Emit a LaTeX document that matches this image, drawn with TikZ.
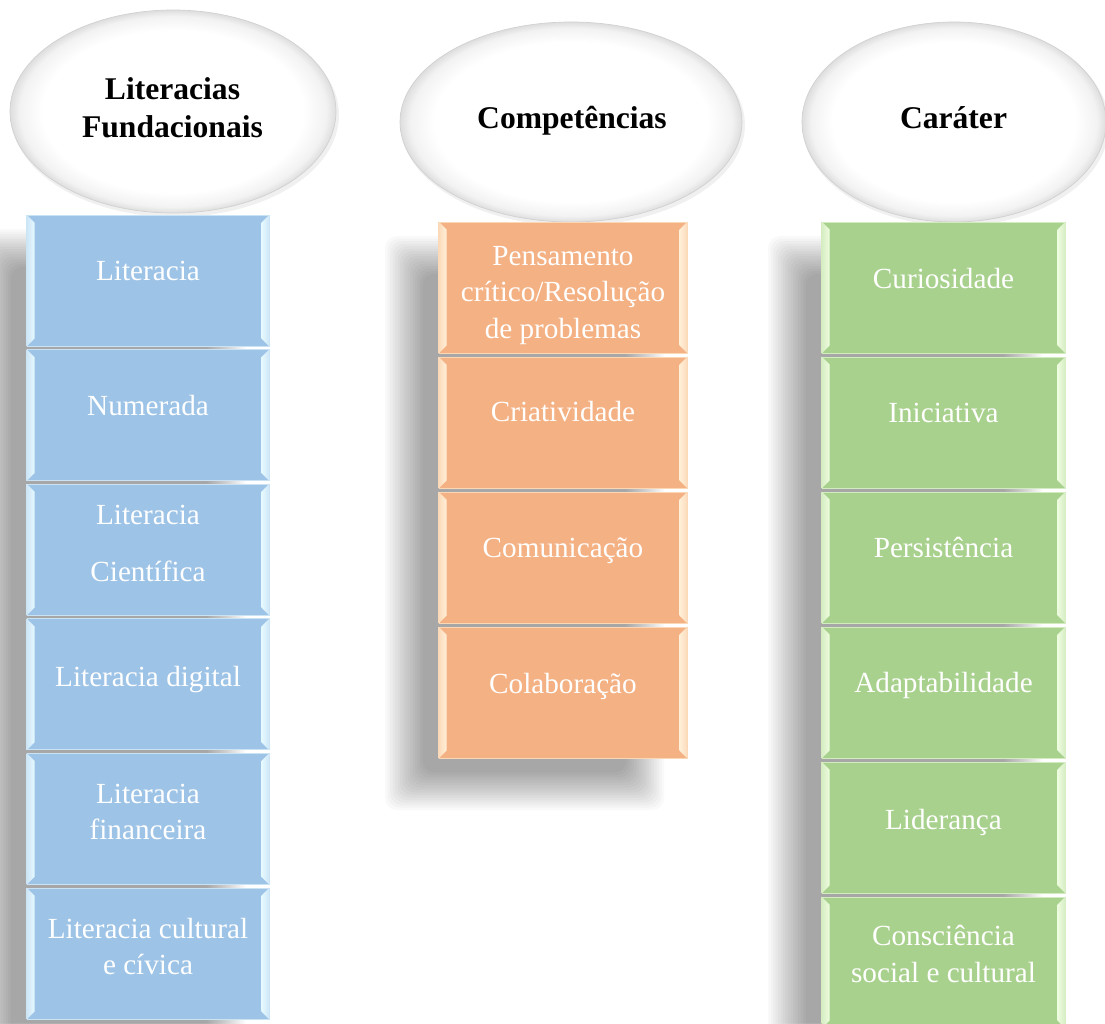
\documentclass[tikz,border=0pt]{standalone}
\usepackage{fontspec}
\setmainfont{Liberation Serif}
\usetikzlibrary{calc,shapes.geometric}
\definecolor{bfill}{HTML}{9DC3E6}
\definecolor{blite}{HTML}{E6F9FF}
\definecolor{ofill}{HTML}{F4B183}
\definecolor{olite}{HTML}{FFF0D8}
\definecolor{gfill}{HTML}{A9D18E}
\definecolor{glite}{HTML}{EEFCDF}
\pgfdeclareradialshading{ellglow}{\pgfpoint{0bp}{0bp}}{color(0bp)=(white); color(20bp)=(white); color(23.5bp)=(black!5); color(25bp)=(black!13); color(50bp)=(black!13)}
\newcommand\softshadow[4]{%
  \foreach \k in {0,...,15}{%
    \pgfmathsetmacro\shd{19-2.5*\k}%
    \fill[black, fill opacity=0.022, rounded corners=12pt] ({#1-\shd},{#2-\shd}) rectangle ({#3+\shd},{#4+\shd});
  }}
\newcommand\bevels[3]{%
  \shade[left color=#3!35!#2, right color=#2] (#1.north west) -- ++(8,8) -- ($(#1.south west)+(8,-8)$) -- (#1.south west) -- cycle;
  \shade[left color=#2, right color=#3!35!#2] (#1.north east) -- ++(-8,8) -- ($(#1.south east)+(-8,-8)$) -- (#1.south east) -- cycle;
}
\tikzset{
  colbox/.style={rectangle, inner sep=0pt, minimum height=131pt, line width=0.8pt},
  bluebox/.style={colbox, minimum width=242pt, fill=bfill, draw=blite!60!bfill},
  orangebox/.style={colbox, minimum width=248pt, fill=ofill, draw=olite!60!ofill},
  greenbox/.style={colbox, minimum width=243pt, fill=gfill, draw=glite!60!gfill},
  boxtxt/.style={text=white, font=\fontsize{29.2}{36.5}\selectfont, align=center, inner sep=0pt},
  single/.style={text height=20.4pt, text depth=6.4pt},
  hsingle/.style={text height=22pt, text depth=7pt},
  hdr/.style={text=black, font=\fontsize{31.6}{38}\selectfont\bfseries, align=center, inner sep=0pt},
  headell/.style={ellipse, inner sep=0pt, shade, shading=ellglow, draw=black!18, line width=0.7pt},
  ellshadow/.style={fill=black, fill opacity=0.06}
}
\begin{document}
\begin{tikzpicture}[x=1pt,y=-1pt]
\useasboundingbox (0,0) rectangle (1105,1023);
\fill[white] (0,0) rectangle (1105,1023);

% soft shadows behind the columns
\softshadow{-8}{248}{226}{1053}
\softshadow{404}{255}{645}{791}
\softshadow{787}{255}{1023}{1060}

% header ellipse shadows
\fill[ellshadow] (175,115) ellipse [x radius=164, y radius=102];
\fill[ellshadow] (573,125) ellipse [x radius=172, y radius=101];
\fill[ellshadow] (956,125) ellipse [x radius=153, y radius=101];

% header ellipses
\node[headell, minimum width=326pt, minimum height=203pt] (e1) at (173,111.5) {};
\node[headell, minimum width=342pt, minimum height=200pt] (e2) at (571,122) {};
\node[headell, minimum width=304pt, minimum height=200pt] (e3) at (954,122) {};

\node[hdr] (h1) at (172.5,107.8) {Literacias\\Fundacionais};
\node[hdr, hsingle] (h2) at (572,121) {Competências};
\node[hdr, hsingle] (h3) at (953.5,121) {Caráter};

% blue column
\node[bluebox] (b1) at (148,280.5) {};
\node[bluebox] (b2) at (148,415.1) {};
\node[bluebox] (b3) at (148,549.7) {};
\node[bluebox] (b4) at (148,684.3) {};
\node[bluebox] (b5) at (148,818.9) {};
\node[bluebox] (b6) at (148,953.5) {};
\foreach \n in {b1,b2,b3,b4,b5,b6}{\bevels{\n}{blite}{bfill}}

% orange column
\node[orangebox] (o1) at (563,287.5) {};
\node[orangebox] (o2) at (563,422.5) {};
\node[orangebox] (o3) at (563,557.5) {};
\node[orangebox] (o4) at (563,692.5) {};
\foreach \n in {o1,o2,o3,o4}{\bevels{\n}{olite}{ofill}}

% green column
\node[greenbox] (g1) at (943.5,287.5) {};
\node[greenbox] (g2) at (943.5,422.5) {};
\node[greenbox] (g3) at (943.5,557.5) {};
\node[greenbox] (g4) at (943.5,692.5) {};
\node[greenbox] (g5) at (943.5,827.5) {};
\node[greenbox] (g6) at (943.5,962.5) {};
\foreach \n in {g1,g2,g3,g4,g5,g6}{\bevels{\n}{glite}{gfill}}

% blue texts
\node[boxtxt, single] (tb1) at (148,273.5) {Literacia};
\node[boxtxt, single] (tb2) at (148,408.5) {Numerada};
\node[boxtxt] (tb3) at (148,543.6) {Literacia\\[21pt]Científica};
\node[boxtxt, single] (tb4) at (148,679.5) {Literacia digital};
\node[boxtxt] (tb5) at (148,812) {Literacia\\financeira};
\node[boxtxt] (tb6) at (148,946.6) {Literacia cultural\\e cívica};

% orange texts
\node[boxtxt] (to1) at (563,295.3) {Pensamento\\crítico/Resolução\\de problemas};
\node[boxtxt, single] (to2) at (563,414.5) {Criatividade};
\node[boxtxt, single] (to3) at (563,550.5) {Comunicação};
\node[boxtxt, single] (to4) at (563,686.5) {Colaboração};

% green texts
\node[boxtxt, single] (tg1) at (943.5,281.5) {Curiosidade};
\node[boxtxt, single] (tg2) at (943.5,415.5) {Iniciativa};
\node[boxtxt, single] (tg3) at (943.5,550.5) {Persistência};
\node[boxtxt, single] (tg4) at (943.5,685.5) {Adaptabilidade};
\node[boxtxt, single] (tg5) at (943.5,822.5) {Liderança};
\node[boxtxt] (tg6) at (943.5,954) {Consciência\\social e cultural};
\end{tikzpicture}
\end{document}
